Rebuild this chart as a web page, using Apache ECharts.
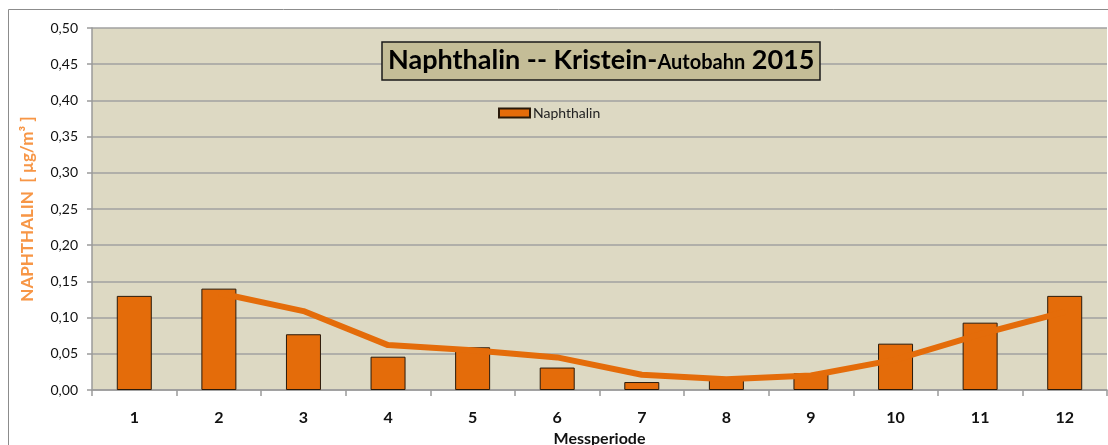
<!DOCTYPE html>
<html>
<head>
<meta charset="utf-8">
<script src="https://cdn.jsdelivr.net/npm/echarts@6/dist/echarts.min.js"></script>
<style>
html,body{margin:0;padding:0;background:#fff;}
#c{width:1108px;height:445px;}
</style>
</head>
<body>
<div id="c"></div>
<script>
const categories = ['1','2','3','4','5','6','7','8','9','10','11','12'];
const naphthalin = [0.130, 0.140, 0.077, 0.046, 0.059, 0.031, 0.011, 0.016, 0.023, 0.064, 0.093, 0.130];
const trendLine = [null, 0.134, 0.109, 0.062, 0.055, 0.045, 0.021, 0.015, 0.020, 0.042, 0.077, 0.108];
const yTicks = [0, 0.05, 0.10, 0.15, 0.20, 0.25, 0.30, 0.35, 0.40, 0.45, 0.50];

const chart = echarts.init(document.getElementById('c'));
const FONT = 'Lato';
chart.setOption({
  animation: false,
  backgroundColor: '#ffffff',
  graphic: [{
    type: 'rect', silent: true, z: -10,
    shape: {x: 8.5, y: 9.5, width: 1110, height: 450},
    style: {fill: 'none', stroke: '#8c8c8c', lineWidth: 1}
  }],
  title: {
    text: '{a|Naphthalin -- Kristein-}{b|Autobahn}{a| 2015}',
    left: 382, top: 40,
    backgroundColor: '#c4bd97',
    borderColor: '#1a1a1a', borderWidth: 1.5,
    padding: [5, 6, 4, 6],
    textStyle: {
      rich: {
        a: {fontFamily: FONT, fontWeight: 'bold', fontSize: 27, color: '#000', lineHeight: 31},
        b: {fontFamily: FONT, fontWeight: 'bold', fontSize: 20, color: '#000', lineHeight: 31, verticalAlign: 'bottom', padding: [0, 0, 3, 0]}
      }
    }
  },
  legend: {
    data: ['Naphthalin'],
    left: 498, top: 106, padding: 0,
    itemWidth: 31, itemHeight: 9, itemGap: 4,
    textStyle: {fontFamily: FONT, fontSize: 14, color: '#222', padding: [0, 0, 0, -2]},
    icon: 'rect'
  },
  grid: {
    left: 92, right: 1, top: 28, bottom: 55,
    outerBoundsMode: 'none',
    show: true, backgroundColor: '#ddd9c3', borderWidth: 0
  },
  xAxis: {
    type: 'category',
    data: categories,
    boundaryGap: true,
    name: 'Messperiode',
    nameLocation: 'middle',
    nameGap: 41,
    nameTextStyle: {fontFamily: FONT, fontWeight: 'bold', fontSize: 16, color: '#111'},
    axisLine: {lineStyle: {color: '#9a9a9a', width: 1.5}},
    axisTick: {show: true, length: 6, lineStyle: {color: '#9a9a9a', width: 1.5}},
    axisLabel: {fontFamily: FONT, fontWeight: 'bold', fontSize: 16, color: '#111', margin: 20}
  },
  yAxis: {
    type: 'value',
    min: 0, max: 0.5, interval: 0.05,
    name: 'NAPHTHALIN  [ µg/m³ ]',
    nameLocation: 'middle',
    nameGap: 56,
    nameTextStyle: {fontFamily: FONT, fontWeight: 'bold', fontSize: 17, color: '#f79646'},
    axisLine: {show: true, lineStyle: {color: '#9a9a9a', width: 1.5}},
    axisTick: {show: true, length: 5, lineStyle: {color: '#9a9a9a', width: 1.5}},
    axisLabel: {
      fontFamily: FONT, fontSize: 14, color: '#111', margin: 14,
      formatter: v => {
        const t = yTicks.find(x => Math.abs(x - v) < 1e-9);
        return (t !== undefined ? t : v).toFixed(2).replace('.', ',');
      }
    },
    splitLine: {lineStyle: {color: '#a0a0a0', width: 1.5}}
  },
  series: [
    {
      name: 'Naphthalin',
      type: 'bar',
      data: naphthalin,
      barWidth: 35,
      itemStyle: {color: '#e46c0a', borderColor: '#2a1a0a', borderWidth: 1}
    },
    {
      name: 'Trend',
      type: 'line',
      data: trendLine,
      symbol: 'none',
      lineStyle: {color: '#e46c0a', width: 6},
      z: 5
    }
  ]
});
</script>
</body>
</html>
